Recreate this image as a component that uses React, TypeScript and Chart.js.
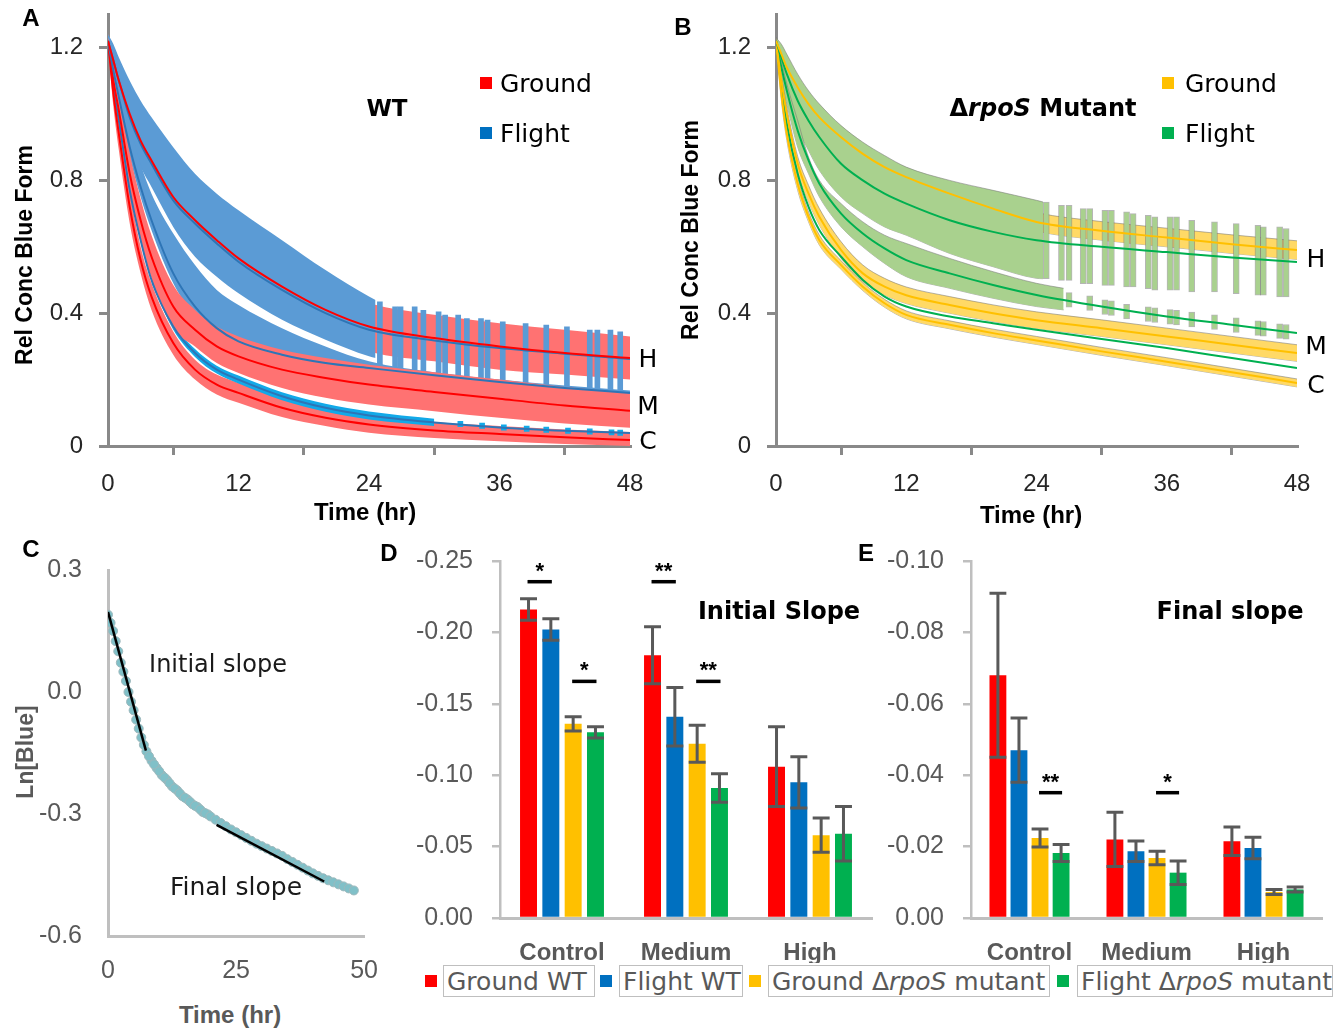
import React, { useEffect, useRef } from 'react';
import { Chart, registerables } from 'chart.js';

Chart.register(...registerables);

// ---------------- Panel A (WT) ----------------
const timeA = [0, 0.5, 1, 2, 3, 4, 6, 8, 10, 12, 16, 20, 24, 30, 36, 42, 48];
const groundH_WT = [1.22, 1.16, 1.1, 1.0, 0.92, 0.86, 0.75, 0.68, 0.62, 0.565, 0.48, 0.41, 0.36, 0.325, 0.3, 0.28, 0.265];
const flightH_WT = [1.22, 1.16, 1.1, 0.99, 0.91, 0.85, 0.74, 0.67, 0.61, 0.555, 0.47, 0.4, 0.35, 0.318, 0.295, 0.278, 0.262];
const groundM_WT = [1.22, 1.1, 1.01, 0.82, 0.68, 0.57, 0.42, 0.35, 0.3, 0.27, 0.23, 0.205, 0.185, 0.163, 0.142, 0.122, 0.106];
const flightM_WT = [1.22, 1.13, 1.05, 0.9, 0.78, 0.68, 0.52, 0.42, 0.355, 0.315, 0.275, 0.25, 0.235, 0.213, 0.193, 0.175, 0.16];
const groundC_WT = [1.22, 1.06, 0.94, 0.72, 0.56, 0.45, 0.31, 0.23, 0.185, 0.16, 0.115, 0.085, 0.065, 0.047, 0.036, 0.026, 0.018];
const flightC_WT = [1.22, 1.08, 0.98, 0.77, 0.62, 0.5, 0.36, 0.28, 0.23, 0.2, 0.15, 0.115, 0.092, 0.071, 0.056, 0.046, 0.039];

const groundH_WT_hi = [1.24, 1.2, 1.16, 1.07, 0.99, 0.93, 0.82, 0.75, 0.69, 0.635, 0.55, 0.48, 0.43, 0.395, 0.37, 0.35, 0.33];
const groundH_WT_lo = [1.2, 1.12, 1.04, 0.93, 0.85, 0.79, 0.68, 0.61, 0.55, 0.495, 0.41, 0.34, 0.285, 0.255, 0.23, 0.215, 0.2];

const timeA_hBand = [0, 0.5, 1, 2, 3, 4, 6, 8, 10, 12, 16, 20, 24, 24.6];
const flightH_WT_hi = [1.24, 1.21, 1.17, 1.1, 1.04, 0.99, 0.9, 0.82, 0.76, 0.71, 0.62, 0.53, 0.45, 0.44];
const flightH_WT_lo = [1.2, 1.1, 1.02, 0.92, 0.84, 0.78, 0.66, 0.57, 0.51, 0.46, 0.38, 0.32, 0.27, 0.265];

const flightM_WT_hi = [1.23, 1.18, 1.12, 0.97, 0.85, 0.76, 0.64, 0.545, 0.47, 0.425, 0.355, 0.3, 0.255, 0.222, 0.2, 0.182, 0.167];
const flightM_WT_lo = [1.2, 1.1, 1.02, 0.87, 0.75, 0.65, 0.49, 0.39, 0.325, 0.285, 0.245, 0.22, 0.205, 0.185, 0.165, 0.147, 0.132];

const groundM_WT_hi = [1.23, 1.14, 1.06, 0.88, 0.745, 0.635, 0.485, 0.41, 0.36, 0.33, 0.29, 0.265, 0.245, 0.222, 0.2, 0.178, 0.16];
const groundM_WT_lo = [1.21, 1.06, 0.96, 0.76, 0.615, 0.505, 0.355, 0.3, 0.25, 0.22, 0.175, 0.145, 0.125, 0.105, 0.085, 0.068, 0.055];

const groundC_WT_hi = [1.23, 1.1, 0.99, 0.77, 0.6, 0.49, 0.345, 0.26, 0.215, 0.19, 0.145, 0.113, 0.092, 0.072, 0.06, 0.05, 0.042];
const groundC_WT_lo = [1.2, 1.02, 0.89, 0.67, 0.52, 0.41, 0.275, 0.2, 0.155, 0.13, 0.087, 0.06, 0.04, 0.024, 0.014, 0.006, 0.0];

const timeA_cBand = [4, 6, 8, 10, 12, 16, 20, 24, 30];
const flightC_WT_hi = [0.51, 0.37, 0.292, 0.242, 0.212, 0.162, 0.127, 0.104, 0.082];
const flightC_WT_lo = [0.49, 0.35, 0.268, 0.218, 0.188, 0.138, 0.103, 0.08, 0.06];

// [time, low, high]
const flightH_WT_stripes = [
  [25.0, 0.229, 0.434], [26.4, 0.219, 0.419], [26.9, 0.219, 0.419], [28.2, 0.198, 0.419], [29.0, 0.198, 0.409],
  [30.4, 0.198, 0.404], [31.0, 0.193, 0.394], [32.2, 0.193, 0.394], [33.0, 0.189, 0.384], [34.3, 0.178, 0.384],
  [34.9, 0.178, 0.379], [36.3, 0.174, 0.374], [38.4, 0.174, 0.369], [40.3, 0.168, 0.364], [42.2, 0.168, 0.359],
  [44.3, 0.163, 0.349], [45.0, 0.163, 0.349], [46.2, 0.163, 0.349], [47.1, 0.163, 0.344],
];
const flightC_WT_stripes = [
  [32.4, 0.058, 0.074], [34.4, 0.053, 0.069], [36.4, 0.048, 0.064], [38.5, 0.044, 0.06], [40.3, 0.041, 0.057],
  [42.3, 0.038, 0.054], [44.3, 0.036, 0.052], [46.3, 0.033, 0.049], [47.1, 0.032, 0.048],
];

// ---------------- Panel B (rpoS mutant) ----------------
const timeB = [0, 0.5, 1, 2, 3, 4, 6, 8, 10, 12, 16, 20, 24, 30, 36, 42, 48];
const groundH_Mut = [1.22, 1.18, 1.14, 1.08, 1.03, 0.99, 0.93, 0.88, 0.84, 0.81, 0.76, 0.715, 0.675, 0.648, 0.628, 0.608, 0.59];
const flightH_Mut = [1.22, 1.17, 1.12, 1.04, 0.98, 0.93, 0.85, 0.8, 0.76, 0.73, 0.68, 0.645, 0.62, 0.6, 0.584, 0.568, 0.554];
const groundM_Mut = [1.22, 1.1, 1.0, 0.85, 0.76, 0.69, 0.59, 0.52, 0.48, 0.454, 0.425, 0.4, 0.379, 0.355, 0.33, 0.305, 0.28];
const flightM_Mut = [1.22, 1.14, 1.07, 0.95, 0.86, 0.79, 0.7, 0.64, 0.595, 0.56, 0.52, 0.485, 0.455, 0.42, 0.39, 0.365, 0.34];
const groundC_Mut = [1.22, 1.06, 0.94, 0.79, 0.69, 0.62, 0.545, 0.48, 0.43, 0.395, 0.365, 0.34, 0.318, 0.285, 0.254, 0.222, 0.19];
const flightC_Mut = [1.22, 1.08, 0.97, 0.82, 0.72, 0.65, 0.57, 0.5, 0.45, 0.42, 0.39, 0.37, 0.35, 0.322, 0.295, 0.265, 0.235];

const groundH_Mut_hi = [1.23, 1.2, 1.165, 1.105, 1.056, 1.017, 0.958, 0.908, 0.868, 0.838, 0.788, 0.743, 0.703, 0.676, 0.656, 0.636, 0.618];
const groundH_Mut_lo = [1.21, 1.16, 1.115, 1.055, 1.004, 0.963, 0.902, 0.852, 0.812, 0.782, 0.732, 0.687, 0.647, 0.62, 0.6, 0.58, 0.562];

const timeB_hBand = [0, 0.5, 1, 2, 3, 4, 6, 8, 10, 12, 16, 20, 24, 24.6];
const flightH_Mut_hi = [1.23, 1.21, 1.18, 1.12, 1.07, 1.03, 0.965, 0.915, 0.875, 0.84, 0.8, 0.77, 0.74, 0.735];
const flightH_Mut_lo = [1.21, 1.13, 1.06, 0.96, 0.89, 0.83, 0.75, 0.7, 0.66, 0.635, 0.58, 0.54, 0.505, 0.504];

const timeB_mBand = [0, 0.5, 1, 2, 3, 4, 6, 8, 10, 12, 16, 20, 24, 26.5];
const flightM_Mut_hi = [1.23, 1.16, 1.09, 0.98, 0.87, 0.8, 0.73, 0.675, 0.635, 0.61, 0.565, 0.525, 0.49, 0.475];
const flightM_Mut_lo = [1.21, 1.1, 1.03, 0.9, 0.82, 0.75, 0.66, 0.6, 0.55, 0.51, 0.475, 0.445, 0.42, 0.41];

const groundM_Mut_hi = [1.23, 1.12, 1.02, 0.872, 0.785, 0.715, 0.615, 0.545, 0.505, 0.479, 0.45, 0.425, 0.404, 0.38, 0.355, 0.33, 0.305];
const groundM_Mut_lo = [1.21, 1.08, 0.98, 0.828, 0.735, 0.665, 0.565, 0.495, 0.455, 0.429, 0.4, 0.375, 0.354, 0.33, 0.305, 0.28, 0.255];

const groundC_Mut_hi = [1.23, 1.08, 0.96, 0.81, 0.705, 0.635, 0.558, 0.492, 0.442, 0.407, 0.377, 0.352, 0.33, 0.297, 0.266, 0.234, 0.202];
const groundC_Mut_lo = [1.21, 1.04, 0.92, 0.77, 0.675, 0.605, 0.532, 0.468, 0.418, 0.383, 0.353, 0.328, 0.306, 0.273, 0.242, 0.21, 0.178];

const flightH_Mut_stripes = [
  [24.9, 0.504, 0.735], [26.3, 0.499, 0.725], [27.0, 0.499, 0.725], [28.3, 0.489, 0.715], [28.9, 0.489, 0.715],
  [30.3, 0.484, 0.71], [30.9, 0.484, 0.71], [32.3, 0.479, 0.705], [32.9, 0.479, 0.7], [34.3, 0.474, 0.695],
  [34.9, 0.469, 0.69], [36.3, 0.469, 0.69], [36.9, 0.469, 0.69], [38.3, 0.464, 0.68], [40.4, 0.464, 0.675],
  [42.4, 0.459, 0.67], [44.4, 0.454, 0.665], [44.9, 0.454, 0.66], [46.4, 0.449, 0.66], [47.0, 0.449, 0.655],
];
const flightM_Mut_stripes = [
  [27.0, 0.418, 0.462], [28.9, 0.408, 0.452], [30.3, 0.396, 0.44], [30.9, 0.393, 0.437], [32.3, 0.383, 0.427],
  [34.3, 0.375, 0.419], [34.9, 0.372, 0.416], [36.3, 0.367, 0.411], [36.9, 0.365, 0.409], [38.3, 0.359, 0.403],
  [40.4, 0.351, 0.395], [42.4, 0.342, 0.386], [44.4, 0.333, 0.377], [44.9, 0.331, 0.375], [46.4, 0.324, 0.368],
  [47.0, 0.322, 0.366],
];

// ---------------- Panel C (ln[Blue]) ----------------
const timeC = [0, 1, 2, 3, 4, 5, 6, 7, 8, 9, 10, 11, 12, 13, 14, 15, 16, 17, 18, 19, 20, 21, 22, 23, 24, 25, 26, 27, 28, 29, 30, 31, 32, 33, 34, 35, 36, 37, 38, 39, 40, 41, 42, 43, 44, 45, 46, 47, 48];
const lnBlue = [0.19, 0.15, 0.1, 0.05, 0.0, -0.045, -0.09, -0.13, -0.158, -0.178, -0.195, -0.21, -0.224, -0.237, -0.249, -0.26, -0.27, -0.28, -0.289, -0.298, -0.306, -0.314, -0.322, -0.33, -0.338, -0.345, -0.352, -0.359, -0.366, -0.373, -0.379, -0.385, -0.391, -0.397, -0.403, -0.411, -0.418, -0.425, -0.432, -0.439, -0.446, -0.452, -0.458, -0.463, -0.468, -0.473, -0.478, -0.483, -0.488];
const timeC_half = [0.5, 1.5, 2.5, 3.5, 4.5, 5.5, 6.5, 7.5, 8.5, 9.5, 10.5, 11.5, 12.5, 13.5, 14.5, 15.5, 16.5, 17.5, 18.5, 19.5];
const lnBlue_half = [0.17, 0.125, 0.072, 0.027, -0.024, -0.068, -0.112, -0.146, -0.169, -0.187, -0.204, -0.216, -0.232, -0.242, -0.256, -0.264, -0.276, -0.283, -0.295, -0.301];
const initialSlopeT = [0, 7.4];
const initialSlopeV = [0.197, -0.144];
const finalSlopeT = [21.2, 42.2];
const finalSlopeV = [-0.327, -0.466];

// ---------------- Panels D & E (slopes) ----------------
const conditions = ['Control', 'Medium', 'High'];
const seriesNames = ['Ground WT', 'Flight WT', 'Ground \u0394rpoS mutant', 'Flight \u0394rpoS mutant'];
const seriesColors = ['#FF0000', '#0070C0', '#FFC000', '#00B050'];

const groundWT_init = [-0.216, -0.184, -0.106];
const flightWT_init = [-0.202, -0.141, -0.095];
const groundMut_init = [-0.136, -0.122, -0.058];
const flightMut_init = [-0.13, -0.091, -0.059];
const groundWT_initErr = [0.0075, 0.02, 0.028];
const flightWT_initErr = [0.0075, 0.0205, 0.018];
const groundMut_initErr = [0.005, 0.013, 0.012];
const flightMut_initErr = [0.004, 0.01, 0.019];
// [condition index, series a, series b, y level, label]
const sigInit: [number, number, number, number, string][] = [
  [0, 0, 1, -0.2355, '*'], [0, 2, 3, -0.1657, '*'], [1, 0, 1, -0.2355, '**'], [1, 2, 3, -0.1657, '**'],
];

const groundWT_final = [-0.068, -0.022, -0.0215];
const flightWT_final = [-0.047, -0.0187, -0.0196];
const groundMut_final = [-0.0224, -0.0168, -0.0073];
const flightMut_final = [-0.0182, -0.0127, -0.008];
const groundWT_finalErr = [0.023, 0.0076, 0.004];
const flightWT_finalErr = [0.009, 0.0029, 0.003];
const groundMut_finalErr = [0.0025, 0.0019, 0.0007];
const flightMut_finalErr = [0.0024, 0.0033, 0.0007];
const sigFinal: [number, number, number, number, string][] = [
  [0, 2, 3, -0.0351, '**'], [1, 2, 3, -0.0351, '*'],
];

// ---------------- styling ----------------
const FONT_L = '"Liberation Sans", Arial, sans-serif';
const FONT_D = '"DejaVu Sans", sans-serif';
const RED = '#FF0000';
const PINK = '#FF7272';
const BLUE_LINE = '#2E75B6';
const BLUE_BAND = '#5B9BD5';
const CYAN = '#12A9E8';
const YEL_LINE = '#FFC000';
const YEL_BAND = '#FFD966';
const GRN_LINE = '#00B050';
const GRN_BAND = '#A9D18E';
const EDGE = 'rgba(120,120,120,0.55)';

const pts = (xs: number[], ys: number[]) => xs.map((x, i) => ({ x, y: ys[i] }));
const stripes = (rows: number[][]) => rows.map((r) => ({ x: r[0], y: [r[1], r[2]] }));

const line = (data: any[], color: string, order: number, width = 2) => ({
  type: 'line', data, borderColor: color, borderWidth: width, pointRadius: 0, fill: false,
  cubicInterpolationMode: 'monotone', order,
});
const bandHi = (data: any[], color: string, order: number, edge?: string) => ({
  type: 'line', data, borderColor: edge || 'rgba(0,0,0,0)', borderWidth: edge ? 1 : 0, backgroundColor: color,
  pointRadius: 0, fill: '+1', cubicInterpolationMode: 'monotone', order,
});
const bandLo = (data: any[], order: number, edge?: string) => ({
  type: 'line', data, borderColor: edge || 'rgba(0,0,0,0)', borderWidth: edge ? 1 : 0,
  pointRadius: 0, fill: false, cubicInterpolationMode: 'monotone', order,
});
const stripeSet = (data: any[], color: string, order: number, thick: number, edge?: string) => ({
  type: 'bar', data, backgroundColor: color, borderColor: edge || color, borderWidth: edge ? 1 : 0,
  borderSkipped: false, barThickness: thick, grouped: false, order,
});

function decayOptions(yWidth: number): any {
  const g = '#898989';
  const f = { family: FONT_L, size: 24 };
  return {
    animation: false, responsive: false, events: [],
    layout: { padding: { top: 0, right: 37, bottom: 0, left: 0 } },
    plugins: { legend: { display: false }, tooltip: { enabled: false } },
    scales: {
      x: {
        type: 'linear', min: 0, max: 48, offset: false,
        ticks: { stepSize: 12, autoSkip: false, maxRotation: 0, font: f, color: '#262626', padding: 15 },
        grid: { drawOnChartArea: false, drawTicks: true, tickLength: 9, color: g, lineWidth: 3 },
        border: { display: true, color: g, width: 3 },
        afterFit: (s: any) => { s.height = 84; },
      },
      y: {
        type: 'linear', min: 0, max: 1.3,
        ticks: {
          stepSize: 0.4, includeBounds: false, font: f, color: '#262626', padding: 16,
          callback: (v: any) => (Math.abs(v) < 1e-9 ? '0' : Number(v).toFixed(1)),
        },
        grid: { drawOnChartArea: false, drawTicks: true, tickLength: 9, color: g, lineWidth: 3 },
        border: { display: true, color: g, width: 3 },
        afterFit: (s: any) => { s.width = yWidth; },
      },
    },
  };
}

function makeA(): any {
  const datasets = [
    line(pts(timeA, groundH_WT), RED, 1),
    line(pts(timeA, flightH_WT), BLUE_LINE, 2),
    line(pts(timeA, flightM_WT), BLUE_LINE, 1),
    line(pts(timeA, groundM_WT), RED, 1),
    line(pts(timeA, flightC_WT), BLUE_LINE, 2),
    line(pts(timeA, groundC_WT), RED, 1),
    bandHi(pts(timeA, groundH_WT_hi), PINK, 20), bandLo(pts(timeA, groundH_WT_lo), 20),
    bandHi(pts(timeA_hBand, flightH_WT_hi), BLUE_BAND, 19), bandLo(pts(timeA_hBand, flightH_WT_lo), 19),
    stripeSet(stripes(flightH_WT_stripes), BLUE_BAND, 18, 5),
    bandHi(pts(timeA, flightM_WT_hi), BLUE_BAND, 17), bandLo(pts(timeA, flightM_WT_lo), 17),
    bandHi(pts(timeA, groundC_WT_hi), PINK, 16), bandLo(pts(timeA, groundC_WT_lo), 16),
    bandHi(pts(timeA_cBand, flightC_WT_hi), CYAN, 15), bandLo(pts(timeA_cBand, flightC_WT_lo), 15),
    stripeSet(stripes(flightC_WT_stripes), CYAN, 15, 5),
    bandHi(pts(timeA, groundM_WT_hi), PINK, 14), bandLo(pts(timeA, groundM_WT_lo), 14),
  ];
  return { type: 'line', data: { datasets }, options: decayOptions(108) };
}

function makeB(): any {
  const datasets = [
    line(pts(timeB, groundH_Mut), YEL_LINE, 1),
    line(pts(timeB, flightH_Mut), GRN_LINE, 1),
    line(pts(timeB, groundM_Mut), YEL_LINE, 1),
    line(pts(timeB, flightM_Mut), GRN_LINE, 1),
    line(pts(timeB, groundC_Mut), YEL_LINE, 1),
    line(pts(timeB, flightC_Mut), GRN_LINE, 1),
    bandHi(pts(timeB, groundH_Mut_hi), YEL_BAND, 20, EDGE), bandLo(pts(timeB, groundH_Mut_lo), 20, EDGE),
    bandHi(pts(timeB_hBand, flightH_Mut_hi), GRN_BAND, 19, EDGE), bandLo(pts(timeB_hBand, flightH_Mut_lo), 19, EDGE),
    stripeSet(stripes(flightH_Mut_stripes), GRN_BAND, 18, 6, EDGE),
    bandHi(pts(timeB_mBand, flightM_Mut_hi), GRN_BAND, 17, EDGE), bandLo(pts(timeB_mBand, flightM_Mut_lo), 17, EDGE),
    stripeSet(stripes(flightM_Mut_stripes), GRN_BAND, 17, 6, EDGE),
    bandHi(pts(timeB, groundM_Mut_hi), YEL_BAND, 16, EDGE), bandLo(pts(timeB, groundM_Mut_lo), 16, EDGE),
    bandHi(pts(timeB, groundC_Mut_hi), YEL_BAND, 15, EDGE), bandLo(pts(timeB, groundC_Mut_lo), 15, EDGE),
  ];
  return { type: 'line', data: { datasets }, options: decayOptions(109) };
}

function makeC(): any {
  const g = '#BFBFBF';
  const f = { family: FONT_L, size: 25 };
  const pointStyle = { pointRadius: 4.5, backgroundColor: '#80C0C8', borderColor: '#9DB8BC', borderWidth: 1, order: 1 };
  return {
    type: 'scatter',
    data: {
      datasets: [
        { type: 'line', data: pts(initialSlopeT, initialSlopeV), borderColor: '#000', borderWidth: 2.5, pointRadius: 0, fill: false, order: 0 },
        { type: 'line', data: pts(finalSlopeT, finalSlopeV), borderColor: '#000', borderWidth: 2.5, pointRadius: 0, fill: false, order: 0 },
        { type: 'scatter', data: pts(timeC, lnBlue), ...pointStyle },
        { type: 'scatter', data: pts(timeC_half, lnBlue_half), ...pointStyle },
      ],
    },
    options: {
      animation: false, responsive: false, events: [],
      layout: { padding: { top: 0, right: 0, left: 0, bottom: 0 } },
      plugins: { legend: { display: false }, tooltip: { enabled: false } },
      scales: {
        x: {
          type: 'linear', min: 0, max: 50,
          ticks: { stepSize: 25, font: f, color: '#595959', padding: 20, maxRotation: 0 },
          grid: { display: false, drawTicks: false },
          border: { display: true, color: g, width: 3 },
          afterFit: (s: any) => { s.height = 54; },
        },
        y: {
          type: 'linear', min: -0.6, max: 0.3,
          ticks: { stepSize: 0.3, font: f, color: '#595959', padding: 26, callback: (v: any) => (Math.abs(v) < 1e-9 ? '0.0' : Number(v).toFixed(1)) },
          grid: { display: false, drawTicks: false },
          border: { display: true, color: g, width: 3 },
          afterFit: (s: any) => { s.width = 108; },
        },
      },
    },
  };
}

function barExtras(errors: number[][], sigs: [number, number, number, number, string][]) {
  return {
    id: 'barExtras',
    afterDatasetsDraw(chart: any) {
      const ctx = chart.ctx;
      const ys = chart.scales.y;
      ctx.save();
      ctx.strokeStyle = '#595959';
      ctx.lineWidth = 3;
      chart.data.datasets.forEach((ds: any, di: number) => {
        const meta = chart.getDatasetMeta(di);
        meta.data.forEach((bar: any, i: number) => {
          const v = ds.data[i];
          const e = errors[di][i];
          const y1 = ys.getPixelForValue(v - e);
          const y2 = ys.getPixelForValue(v + e);
          const h = bar.width / 2;
          ctx.beginPath();
          ctx.moveTo(bar.x, y1); ctx.lineTo(bar.x, y2);
          ctx.moveTo(bar.x - h, y1); ctx.lineTo(bar.x + h, y1);
          ctx.moveTo(bar.x - h, y2); ctx.lineTo(bar.x + h, y2);
          ctx.stroke();
        });
      });
      ctx.strokeStyle = '#000';
      ctx.fillStyle = '#000';
      ctx.lineWidth = 3.5;
      ctx.font = 'bold 22px ' + FONT_L;
      ctx.textAlign = 'center';
      ctx.textBaseline = 'alphabetic';
      sigs.forEach(([cat, a, b, lvl, txt]) => {
        const ba = chart.getDatasetMeta(a).data[cat];
        const bb = chart.getDatasetMeta(b).data[cat];
        const y = ys.getPixelForValue(lvl);
        ctx.beginPath();
        ctx.moveTo(ba.x - 1, y); ctx.lineTo(bb.x + 1, y);
        ctx.stroke();
        ctx.fillText(txt, (ba.x + bb.x) / 2, y - 4);
      });
      ctx.restore();
    },
  };
}

function slopeOptions(min: number, step: number, yWidth: number, padRight: number, barPct: number): any {
  const g = '#BFBFBF';
  return {
    animation: false, responsive: false, events: [],
    layout: { padding: { top: 0, right: padRight, left: 0, bottom: 0 } },
    plugins: { legend: { display: false }, tooltip: { enabled: false } },
    datasets: { bar: { categoryPercentage: 0.72, barPercentage: barPct } },
    scales: {
      x: {
        type: 'category', offset: true,
        ticks: { font: { family: FONT_L, size: 24, weight: 'bold' }, color: '#595959', padding: 21, maxRotation: 0, autoSkip: false },
        grid: { display: false, drawTicks: false },
        border: { display: true, color: g, width: 3 },
        afterFit: (s: any) => { s.height = 45; },
      },
      y: {
        type: 'linear', reverse: true, min, max: 0,
        ticks: {
          stepSize: step, font: { family: FONT_L, size: 25 }, color: '#595959', padding: 19,
          callback: (v: any) => (Math.abs(v) < 1e-9 ? '0.00' : Number(v).toFixed(2)),
        },
        grid: { drawOnChartArea: false, drawTicks: true, tickLength: 8, color: g, lineWidth: 2.5 },
        border: { display: true, color: g, width: 2.5 },
        afterFit: (s: any) => { s.width = yWidth; },
      },
    },
  };
}

function makeD(): any {
  const vals = [groundWT_init, flightWT_init, groundMut_init, flightMut_init];
  return {
    type: 'bar',
    data: {
      labels: conditions,
      datasets: vals.map((d, i) => ({ label: seriesNames[i], data: d, backgroundColor: seriesColors[i], borderWidth: 0 })),
    },
    options: slopeOptions(-0.25, 0.05, 120, 2, 0.76),
    plugins: [barExtras([groundWT_initErr, flightWT_initErr, groundMut_initErr, flightMut_initErr], sigInit)],
  };
}

function makeE(): any {
  const vals = [groundWT_final, flightWT_final, groundMut_final, flightMut_final];
  return {
    type: 'bar',
    data: {
      labels: conditions,
      datasets: vals.map((d, i) => ({ label: seriesNames[i], data: d, backgroundColor: seriesColors[i], borderWidth: 0 })),
    },
    options: slopeOptions(-0.1, 0.02, 111, 12, 0.8),
    plugins: [barExtras([groundWT_finalErr, flightWT_finalErr, groundMut_finalErr, flightMut_finalErr], sigFinal)],
  };
}

function ChartBox({ left, top, width, height, make }: { left: number; top: number; width: number; height: number; make: () => any }) {
  const ref = useRef<HTMLCanvasElement>(null);
  useEffect(() => {
    const chart = new Chart(ref.current as HTMLCanvasElement, make());
    return () => chart.destroy();
  }, []);
  return <canvas ref={ref} width={width} height={height} style={{ position: 'absolute', left, top, width, height }} />;
}

type TxtProps = {
  x: number; y: number; size: number; bold?: boolean; color?: string; family?: string;
  anchor?: 'center' | 'left'; rotate?: boolean; children: any;
};
function Txt({ x, y, size, bold, color = '#000', family = FONT_D, anchor = 'center', rotate, children }: TxtProps) {
  const tf = (anchor === 'center' ? 'translate(-50%,-50%)' : 'translate(0,-50%)') + (rotate ? ' rotate(-90deg)' : '');
  return (
    <div style={{ position: 'absolute', left: x, top: y, transform: tf, fontFamily: family, fontSize: size, fontWeight: bold ? 700 : 400, color, lineHeight: 1, whiteSpace: 'nowrap' }}>
      {children}
    </div>
  );
}

const Sq = ({ x, y, color }: { x: number; y: number; color: string }) => (
  <div style={{ position: 'absolute', left: x, top: y, width: 12, height: 12, background: color }} />
);

const LegendBox = ({ x, w, children }: { x: number; w: number; children: any }) => (
  <div style={{
    position: 'absolute', left: x, top: 965, width: w, height: 32, boxSizing: 'border-box', border: '1px solid #BFBFBF',
    background: '#fff', display: 'flex', alignItems: 'center', paddingLeft: 3, fontFamily: FONT_D, fontSize: 25,
    color: '#595959', whiteSpace: 'nowrap', overflow: 'hidden',
  }}>{children}</div>
);

export default function App() {
  return (
    <div style={{ position: 'absolute', left: 0, top: 0, width: 1334, height: 1030, background: '#fff', overflow: 'hidden' }}>
      <ChartBox left={0} top={-16} width={667} height={546} make={makeA} />
      <ChartBox left={667} top={-16} width={667} height={546} make={makeB} />
      <ChartBox left={0} top={529} width={398} height={461} make={makeC} />
      <ChartBox left={380} top={527} width={494} height={436} make={makeD} />
      <ChartBox left={860} top={527} width={474} height={436} make={makeE} />

      {/* Panel A */}
      <Txt x={31} y={18} size={24} bold family={FONT_L}>A</Txt>
      <Txt x={24} y={255} size={23} bold family={FONT_L} rotate>Rel Conc Blue Form</Txt>
      <Txt x={365} y={512} size={24} bold family={FONT_L}>Time (hr)</Txt>
      <Txt x={387} y={108} size={23} bold>WT</Txt>
      <Sq x={480} y={77} color="#FF0000" />
      <Txt x={500} y={83} size={25} anchor="left">Ground</Txt>
      <Sq x={480} y={127} color="#0070C0" />
      <Txt x={500} y={133} size={25} anchor="left">Flight</Txt>
      <Txt x={648} y={358} size={25}>H</Txt>
      <Txt x={648} y={405} size={25}>M</Txt>
      <Txt x={648} y={440} size={25}>C</Txt>

      {/* Panel B */}
      <Txt x={683} y={27} size={24} bold family={FONT_L}>B</Txt>
      <Txt x={690} y={230} size={23} bold family={FONT_L} rotate>Rel Conc Blue Form</Txt>
      <Txt x={1031} y={515} size={24} bold family={FONT_L}>Time (hr)</Txt>
      <Txt x={1043} y={108} size={24} bold>{'\u0394'}<i>rpoS</i> Mutant</Txt>
      <Sq x={1162} y={77} color="#FFC000" />
      <Txt x={1185} y={83} size={25} anchor="left">Ground</Txt>
      <Sq x={1162} y={127} color="#00B050" />
      <Txt x={1185} y={133} size={25} anchor="left">Flight</Txt>
      <Txt x={1316} y={258} size={25}>H</Txt>
      <Txt x={1316} y={345} size={25}>M</Txt>
      <Txt x={1316} y={384} size={25}>C</Txt>

      {/* Panel C */}
      <Txt x={31} y={549} size={24} bold family={FONT_L}>C</Txt>
      <Txt x={25} y={752} size={23} bold family={FONT_L} color="#595959" rotate>Ln[Blue]</Txt>
      <Txt x={230} y={1015} size={24} bold family={FONT_L} color="#595959">Time (hr)</Txt>
      <Txt x={218} y={664} size={24} color="#1a1a1a">Initial slope</Txt>
      <Txt x={236} y={886} size={25} color="#1a1a1a">Final slope</Txt>

      {/* Panels D & E */}
      <Txt x={389} y={553} size={24} bold family={FONT_L}>D</Txt>
      <Txt x={866} y={553} size={24} bold family={FONT_L}>E</Txt>
      <Txt x={779} y={611} size={24} bold>Initial Slope</Txt>
      <Txt x={1230} y={611} size={24} bold>Final slope</Txt>

      {/* Shared legend */}
      <Sq x={425} y={975} color={seriesColors[0]} />
      <LegendBox x={443} w={152}>Ground WT</LegendBox>
      <Sq x={600} y={975} color={seriesColors[1]} />
      <LegendBox x={619} w={124}>Flight WT</LegendBox>
      <Sq x={749} y={975} color={seriesColors[2]} />
      <LegendBox x={768} w={282}>Ground {'\u0394'}<i>rpoS</i>&nbsp;mutant</LegendBox>
      <Sq x={1057} y={975} color={seriesColors[3]} />
      <LegendBox x={1077} w={256}>Flight {'\u0394'}<i>rpoS</i>&nbsp;mutant</LegendBox>
    </div>
  );
}
